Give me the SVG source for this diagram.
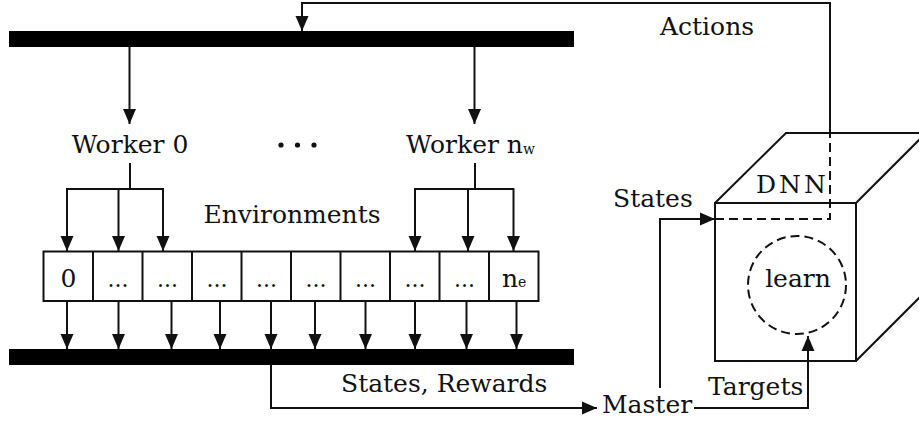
<svg xmlns="http://www.w3.org/2000/svg" width="919" height="423" viewBox="0 0 919 423">
<defs>
<style>
text{font-family:"DejaVu Serif","Liberation Serif",serif;font-size:25px;fill:#111}
.ln{fill:none;stroke:#111;stroke-width:2}
.dash{fill:none;stroke:#111;stroke-width:2;stroke-dasharray:9 5}
.arr{fill:none;stroke:#111;stroke-width:2;marker-end:url(#ah)}
.box{fill:#fff;stroke:#111;stroke-width:2}
.bus{fill:#000}
.sub{font-size:14px}
.dots{font-size:22px}
</style>
<marker id="ah" viewBox="0 0 15 14" refX="15" refY="7" markerWidth="15" markerHeight="14" markerUnits="userSpaceOnUse" orient="auto">
<path d="M0,0.5 L15,7 L0,13.5 z" fill="#111"/>
</marker>
</defs>
<rect width="919" height="423" fill="#fff"/>

<g id="connectors">
<!-- Actions feedback -->
<polyline class="ln" points="830,133 830,3 302,3 302,18"/>
<line class="arr" x1="302" y1="10" x2="302" y2="31"/>
<polyline class="dash" points="715,219 830,219 830,133"/>
<!-- bus to workers -->
<line class="arr" x1="129.5" y1="47" x2="129.5" y2="124"/>
<line class="arr" x1="474.5" y1="47" x2="474.5" y2="124"/>
<!-- worker 0 to envs -->
<line class="ln" x1="130" y1="163" x2="130" y2="189"/>
<line class="ln" x1="66.5" y1="189" x2="163.5" y2="189"/>
<line class="arr" x1="67" y1="188" x2="67" y2="251"/>
<line class="arr" x1="118.5" y1="188" x2="118.5" y2="251"/>
<line class="arr" x1="163" y1="188" x2="163" y2="251"/>
<!-- worker n to envs -->
<line class="ln" x1="475" y1="163" x2="475" y2="189"/>
<line class="ln" x1="414.5" y1="189" x2="514" y2="189"/>
<line class="arr" x1="415" y1="188" x2="415" y2="251"/>
<line class="arr" x1="468" y1="188" x2="468" y2="251"/>
<line class="arr" x1="513.5" y1="188" x2="513.5" y2="251"/>
<!-- envs to bottom bus -->
<line class="arr" x1="67" y1="301" x2="67" y2="349"/>
<line class="arr" x1="118.5" y1="301" x2="118.5" y2="349"/>
<line class="arr" x1="171.5" y1="301" x2="171.5" y2="349"/>
<line class="arr" x1="220" y1="301" x2="220" y2="349"/>
<line class="arr" x1="271" y1="301" x2="271" y2="349"/>
<line class="arr" x1="315" y1="301" x2="315" y2="349"/>
<line class="arr" x1="365.5" y1="301" x2="365.5" y2="349"/>
<line class="arr" x1="415" y1="301" x2="415" y2="349"/>
<line class="arr" x1="466.5" y1="301" x2="466.5" y2="349"/>
<line class="arr" x1="516.5" y1="301" x2="516.5" y2="349"/>
<!-- states, rewards to master -->
<polyline class="arr" points="271,365 271,408 597,408"/>
<!-- master to DNN: states -->
<polyline class="arr" points="660,388 660,219 715,219"/>
<!-- master to learn: targets -->
<polyline class="arr" points="694,408 808,408 808,336"/>
</g>

<g id="top-bus"><rect class="bus" x="9" y="31" width="565" height="16"/></g>
<g id="bottom-bus"><rect class="bus" x="9" y="349" width="565" height="16"/></g>

<g id="worker-0"><text x="130" y="153" text-anchor="middle">Worker 0</text></g>
<g id="worker-dots">
<circle cx="281" cy="145" r="2.6" fill="#111"/>
<circle cx="297.5" cy="145" r="2.6" fill="#111"/>
<circle cx="314" cy="145" r="2.6" fill="#111"/>
</g>
<g id="worker-n"><text x="406" y="153">Worker n<tspan class="sub" dy="1">w</tspan></text></g>

<g id="environments">
<text x="292" y="223" text-anchor="middle">Environments</text>
<rect class="box" x="43.5" y="251.5" width="495" height="49.5"/>
<g class="ln">
<line x1="93" y1="251.5" x2="93" y2="301"/>
<line x1="142.5" y1="251.5" x2="142.5" y2="301"/>
<line x1="192" y1="251.5" x2="192" y2="301"/>
<line x1="241.5" y1="251.5" x2="241.5" y2="301"/>
<line x1="291" y1="251.5" x2="291" y2="301"/>
<line x1="340.5" y1="251.5" x2="340.5" y2="301"/>
<line x1="390" y1="251.5" x2="390" y2="301"/>
<line x1="439.5" y1="251.5" x2="439.5" y2="301"/>
<line x1="489" y1="251.5" x2="489" y2="301"/>
</g>
<text x="68.5" y="287" text-anchor="middle">0</text>
<text class="dots" x="118" y="287" text-anchor="middle">...</text>
<text class="dots" x="167.5" y="287" text-anchor="middle">...</text>
<text class="dots" x="217" y="287" text-anchor="middle">...</text>
<text class="dots" x="266.5" y="287" text-anchor="middle">...</text>
<text class="dots" x="316" y="287" text-anchor="middle">...</text>
<text class="dots" x="365.5" y="287" text-anchor="middle">...</text>
<text class="dots" x="415" y="287" text-anchor="middle">...</text>
<text class="dots" x="464.5" y="287" text-anchor="middle">...</text>
<text x="502" y="287">n<tspan class="sub" dy="0">e</tspan></text>
</g>

<g id="labels">
<text x="660" y="35">Actions</text>
<text x="341" y="392">States, Rewards</text>
<text x="613" y="207">States</text>
<text x="708" y="395">Targets</text>
</g>

<g id="master"><text x="602" y="413">Master</text></g>

<g id="dnn">
<rect class="ln" x="715" y="203" width="141" height="158"/>
<polyline class="ln" points="715,203 786,133 935,133"/>
<line class="ln" x1="856" y1="203" x2="935" y2="124"/>
<line class="ln" x1="856" y1="361" x2="935" y2="282"/>
<text x="756" y="193" letter-spacing="3">DNN</text>
</g>

<g id="learn">
<circle class="dash" cx="797" cy="285" r="49"/>
<text x="798" y="287" text-anchor="middle">learn</text>
</g>
</svg>
